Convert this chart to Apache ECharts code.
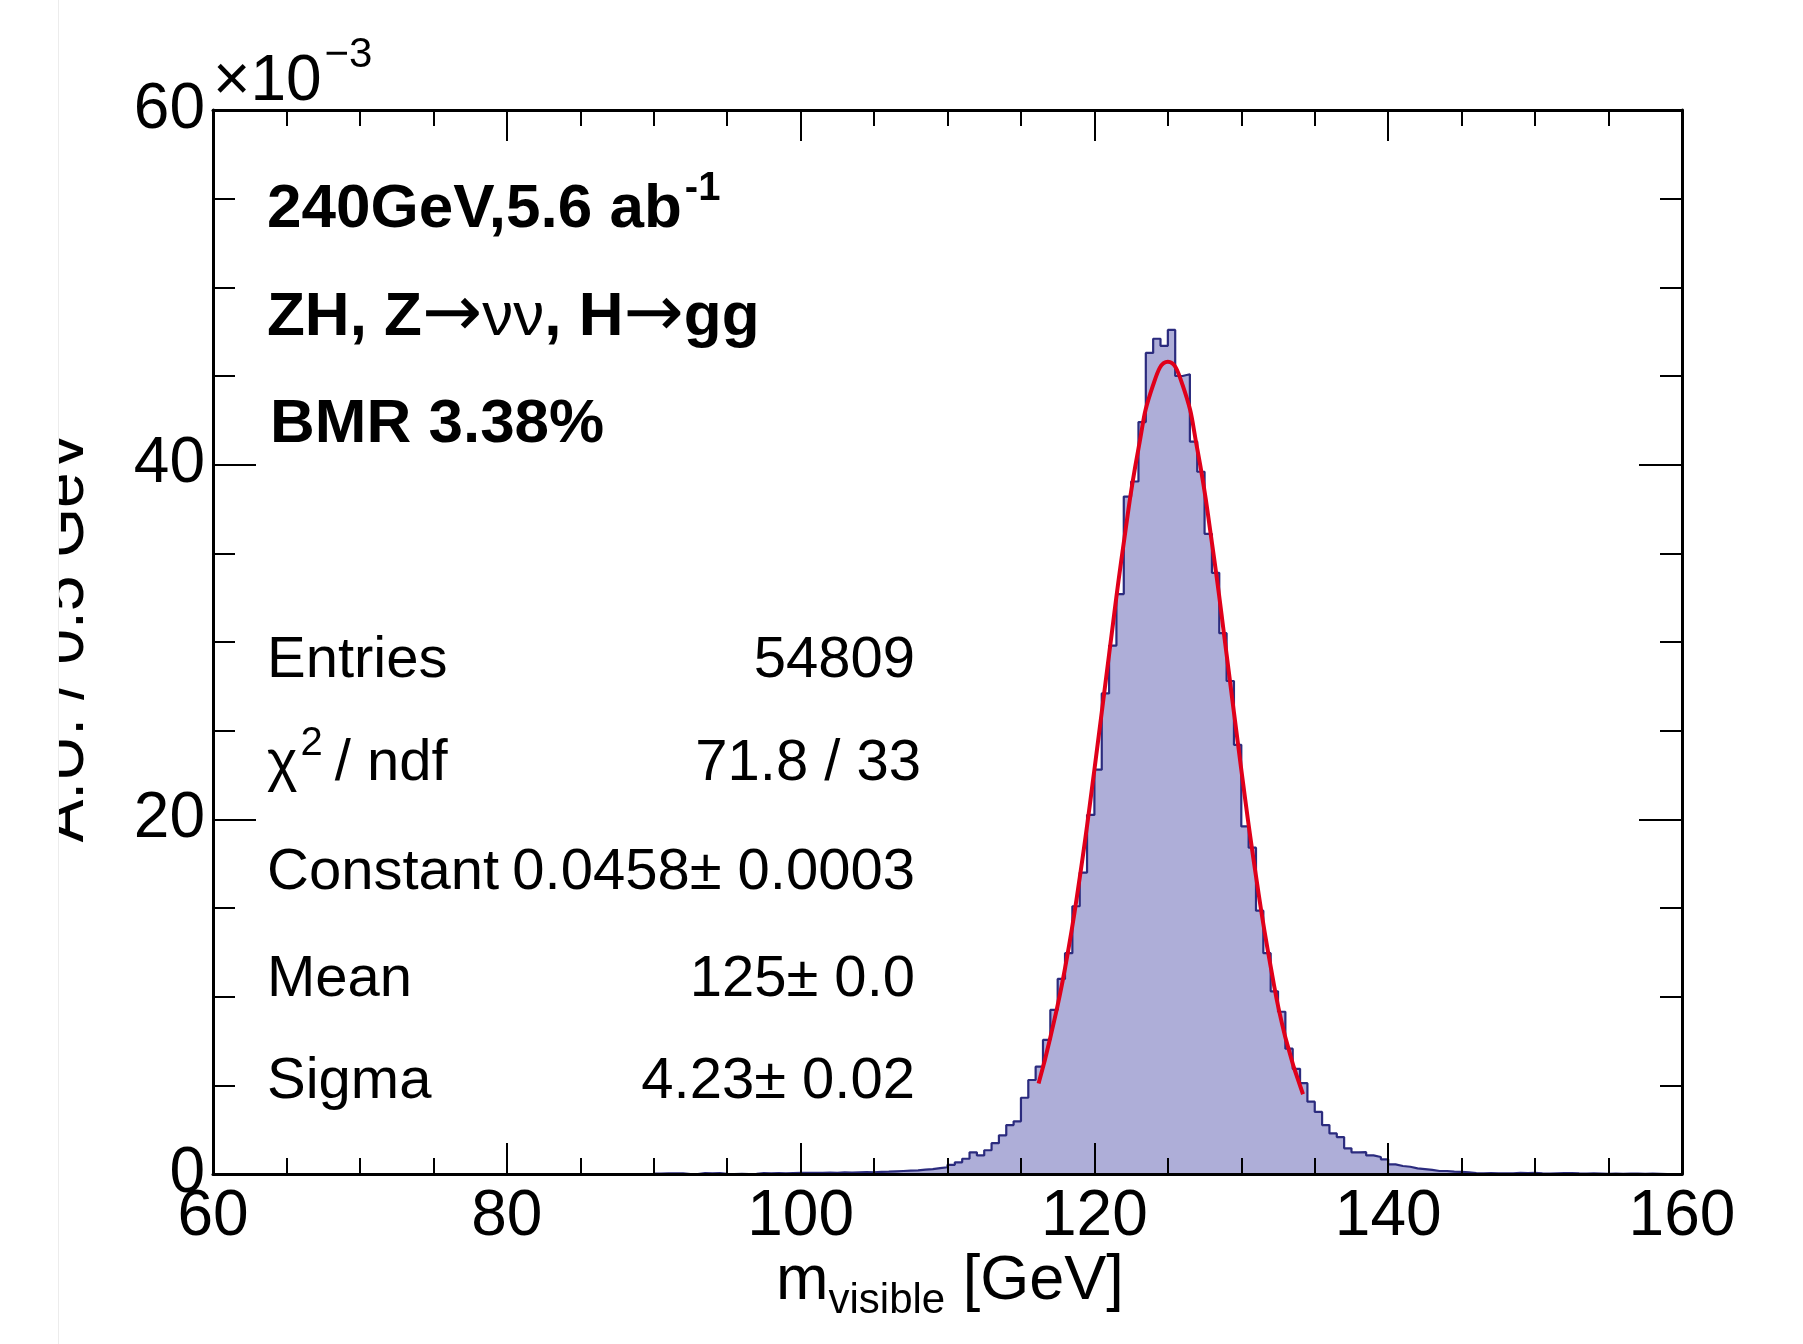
<!DOCTYPE html>
<html>
<head>
<meta charset="utf-8">
<title>m_visible</title>
<script src="https://cdn.jsdelivr.net/npm/echarts@6/dist/echarts.min.js"></script>
<style>
html, body { margin: 0; padding: 0; background: #fff; }
#chart { width: 1803px; height: 1344px; }
</style>
</head>
<body>
<div id="chart"></div>
<script>
// histogram, 0.5 GeV bins, values in units of 1e-3 (A.U.)
const binWidth = 0.5;
const firstBinLow = 90; // everything below 90 GeV is empty
const binValues = [
    0.02, 0.04, 0.04, 0.03, 0, 0, 0.05, 0.04, 0.05, 0.01,          // 90 - 95
    0, 0.01, 0, 0.01, 0.05, 0.04, 0.05, 0.03, 0.05, 0.06,          // 95 - 100
    0.07, 0.06, 0.07, 0.08, 0.07, 0.09, 0.08, 0.10, 0.11, 0.10,    // 100 - 105
    0.12, 0.13, 0.15, 0.17, 0.19, 0.20, 0.25, 0.27, 0.33, 0.38,    // 105 - 110
    0.52, 0.66, 0.86, 1.22, 1.05, 1.34, 1.74, 2.18, 2.76, 2.97,    // 110 - 115
    4.30, 5.30, 6.05, 7.56, 9.25, 11.0, 12.45, 15.1, 17.0, 20.25,  // 115 - 120
    22.8, 27.1, 29.8, 32.7, 38.2, 39.05, 42.4, 46.3, 47.1, 46.7,   // 120 - 125
    47.6, 45.0, 45.1, 41.3, 39.6, 36.1, 33.9, 30.5, 27.8, 24.2,    // 125 - 130
    19.6, 18.4, 14.85, 12.45, 10.3, 9.15, 7.07, 5.93, 5.12, 4.08,  // 130 - 135
    3.50, 2.76, 2.29, 2.08, 1.45, 1.22, 1.23, 1.05, 0.96, 0.83,    // 135 - 140
    0.54, 0.45, 0.41, 0.32, 0.28, 0.23, 0.17, 0.17, 0.13, 0.12,    // 140 - 145
    0.10, 0.05, 0.04, 0.05, 0.03, 0.04, 0.04, 0.06, 0.05, 0.06,    // 145 - 150
    0.03, 0.02, 0.04, 0.05, 0.05, 0.03, 0.02, 0.03, 0.02, 0.01,    // 150 - 155
    0.02, 0.01, 0.02, 0.02, 0.01, 0.02, 0.01, 0, 0, 0              // 155 - 160
];

// gaussian fit curve as drawn (GeV, 1e-3)
const fitX = [116.2, 117, 118, 119, 120, 121, 122, 123, 124, 125, 126, 127, 128, 129, 130, 131, 132, 133, 134.2];
const fitY = [5.1, 7.7, 11.6, 16.7, 22.8, 29.3, 35.6, 40.9, 44.5, 45.8, 44.5, 40.9, 35.6, 29.3, 22.8, 16.8, 11.7, 7.7, 4.5];

// axes
const xMin = 60, xMax = 160, xStep = 20;
const yMin = 0, yMax = 60, yStep = 20;

// stats box
const statNames = ['Entries', 'χ', 'Constant', 'Mean', 'Sigma'];
const statValues = ['54809', '71.8 / 33', '0.0458± 0.0003', '125± 0.0', '4.23± 0.02'];

const FONT = '"Liberation Sans", Arial, Helvetica, sans-serif';
const measureCtx = document.createElement('canvas').getContext('2d');

function fontOf(p) {
    return (p.bold ? 'bold ' : '') + p.size + 'px ' + (p.family || FONT);
}

// lays out a run of text pieces on one baseline (super/subscripts via rise)
function textRun(x, baseline, parts, align) {
    const widths = parts.map(p => {
        measureCtx.font = fontOf(p);
        return measureCtx.measureText(p.text).width;
    });
    const total = widths.reduce((a, b) => a + b, 0) + parts.reduce((a, p) => a + (p.gap || 0), 0);
    let cx = align === 'right' ? x - total : x;
    return parts.map((p, i) => {
        const el = {
            type: 'text',
            x: cx,
            y: baseline - (p.rise || 0) - 0.29 * p.size,
            z: 100,
            style: {
                text: p.text,
                font: fontOf(p),
                fill: '#000',
                align: 'left',
                verticalAlign: 'middle',
                textAlign: 'left',
                textVerticalAlign: 'middle'
            }
        };
        cx += widths[i] + (p.gap || 0);
        return el;
    });
}

const histData = binValues.map((v, i) => [firstBinLow + i * binWidth, v]);
histData.push([firstBinLow + binValues.length * binWidth, binValues[binValues.length - 1]]);
const fitData = fitX.map((x, i) => [x, fitY[i]]);

const ARROW = '"DejaVu Sans", sans-serif';
let graphics = [];
// header lines
graphics = graphics.concat(textRun(267, 228, [
    { text: '240GeV,5.6 ab', size: 62, bold: true, gap: 3 },
    { text: '-1', size: 40, bold: true, rise: 27 }
]));
graphics = graphics.concat(textRun(267, 336, [
    { text: 'ZH, Z', size: 62, bold: true },
    { text: '→', size: 72, family: ARROW, rise: -2 },
    { text: 'νν', size: 62 },
    { text: ', H', size: 62, bold: true },
    { text: '→', size: 72, family: ARROW, rise: -2 },
    { text: 'gg', size: 62, bold: true }
]));
graphics = graphics.concat(textRun(270, 443, [{ text: 'BMR 3.38%', size: 62, bold: true }]));

// stats
const statBase = [678, 781, 890, 997, 1099];
statNames.forEach((n, i) => {
    if (n === 'χ') {
        graphics = graphics.concat(textRun(267, statBase[i], [
            { text: 'χ', size: 58, gap: 3 },
            { text: '2', size: 40, rise: 25, gap: 12 },
            { text: '/ ndf', size: 58 }
        ]));
    } else {
        graphics = graphics.concat(textRun(267, statBase[i], [{ text: n, size: 58 }]));
    }
    graphics = graphics.concat(textRun(i === 1 ? 921 : 915, statBase[i], [{ text: statValues[i], size: 58 }], 'right'));
});

// exponent of the y axis
graphics = graphics.concat(textRun(213, 101, [
    { text: '×10', size: 64, gap: 3 },
    { text: '−3', size: 42, rise: 33 }
]));

// x axis title
graphics = graphics.concat(textRun(776, 1300, [
    { text: 'm', size: 63 },
    { text: 'visible', size: 42, rise: -14 },
    { text: ' [GeV]', size: 63 }
]));

// y axis title (rotated), left part cut off like the original
graphics.push({
    type: 'text',
    x: 65,
    y: 636,
    rotation: Math.PI / 2,
    z: 100,
    style: {
        text: 'A.U. / 0.5 GeV',
        font: '64px ' + FONT,
        fill: '#000',
        align: 'center',
        verticalAlign: 'middle',
        textAlign: 'center',
        textVerticalAlign: 'middle'
    }
});
graphics.push({ type: 'rect', shape: { x: 0, y: 0, width: 58, height: 1344 }, style: { fill: '#fff' }, z: 200 });
graphics.push({ type: 'line', shape: { x1: 58.5, y1: 0, x2: 58.5, y2: 1344 }, style: { stroke: '#ececec', lineWidth: 1 }, z: 201 });

function makeXAxis(pos, showLabel) {
    return {
        type: 'value',
        position: pos,
        min: xMin,
        max: xMax,
        interval: xStep,
        z: 10,
        axisLine: { show: true, onZero: false, lineStyle: { color: '#000', width: 3 } },
        axisTick: { show: true, inside: true, length: 31, lineStyle: { color: '#000', width: 2 } },
        minorTick: { show: true, splitNumber: 4, length: 16, lineStyle: { color: '#000', width: 2 } },
        splitLine: { show: false },
        minorSplitLine: { show: false },
        axisLabel: {
            show: showLabel,
            color: '#000',
            fontSize: 64,
            fontFamily: FONT,
            margin: 11
        }
    };
}

function makeYAxis(pos, showLabel) {
    return {
        type: 'value',
        position: pos,
        min: yMin,
        max: yMax,
        interval: yStep,
        z: 10,
        axisLine: { show: true, onZero: false, lineStyle: { color: '#000', width: 3 } },
        axisTick: { show: true, inside: true, length: 43, lineStyle: { color: '#000', width: 2 } },
        minorTick: { show: true, splitNumber: 4, length: 22, lineStyle: { color: '#000', width: 2 } },
        splitLine: { show: false },
        minorSplitLine: { show: false },
        axisLabel: {
            show: showLabel,
            color: '#000',
            fontSize: 64,
            fontFamily: FONT,
            margin: 8
        }
    };
}

const chart = echarts.init(document.getElementById('chart'));
chart.setOption({
    animation: false,
    backgroundColor: '#fff',
    grid: { left: 213, right: 121, top: 110, bottom: 170 },
    xAxis: [makeXAxis('bottom', true), makeXAxis('top', false)],
    yAxis: [makeYAxis('left', true), makeYAxis('right', false)],
    series: [
        {
            name: 'hist',
            type: 'line',
            step: 'end',
            symbol: 'none',
            data: histData,
            z: 3,
            lineStyle: { color: '#2b2b7e', width: 2.2 },
            areaStyle: { color: '#aeaed8', opacity: 1 }
        },
        {
            name: 'fit',
            type: 'line',
            smooth: true,
            symbol: 'none',
            data: fitData,
            z: 5,
            lineStyle: { color: '#e0001a', width: 4 }
        }
    ],
    graphic: graphics
});
window.addEventListener('resize', () => chart.resize());
</script>
</body>
</html>
